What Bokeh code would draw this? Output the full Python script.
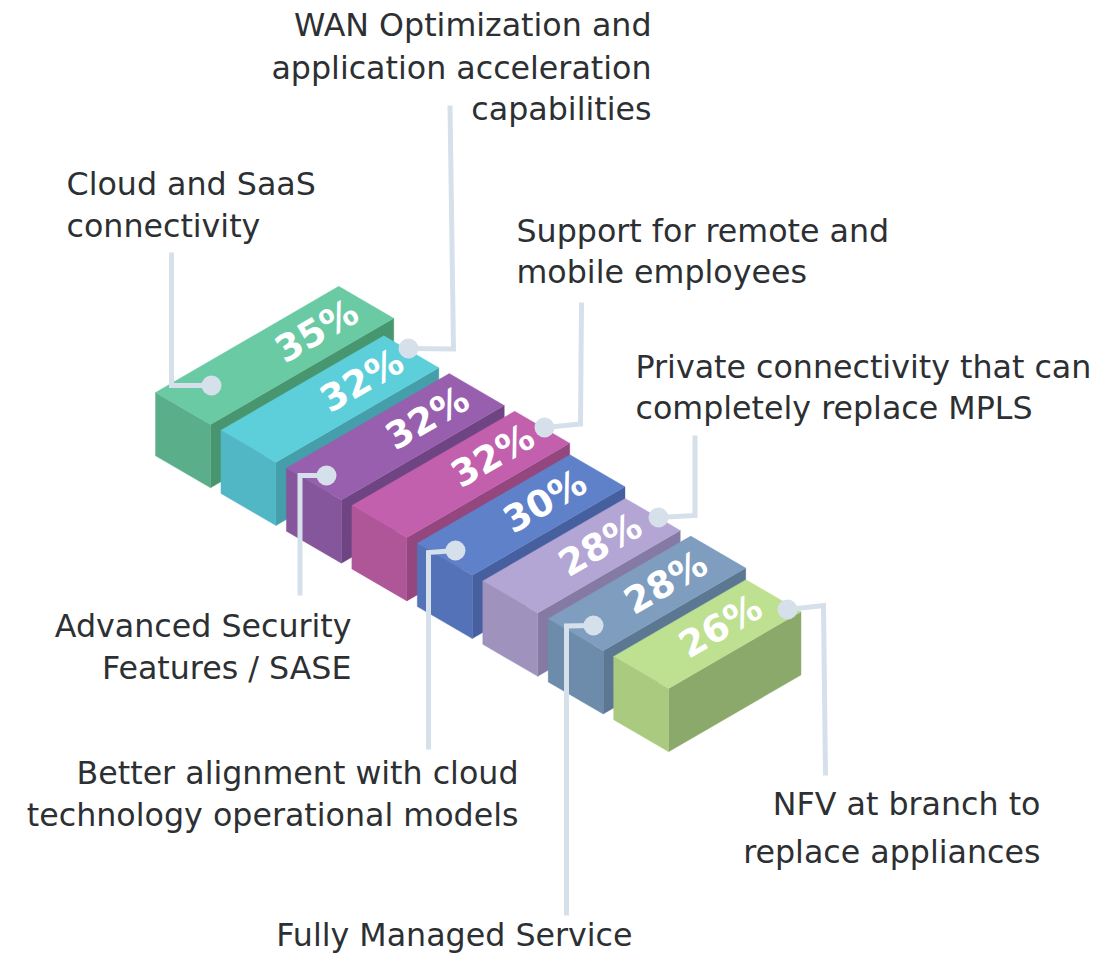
from bokeh.plotting import figure
from bokeh.models import Range1d, ColumnDataSource
from bokeh.core.properties import value
from bokeh.embed import file_html
from bokeh.resources import INLINE

# ---- data ----
categories = ["Cloud and SaaS connectivity",
              "WAN Optimization and application acceleration capabilities",
              "Advanced Security Features / SASE",
              "Support for remote and mobile employees",
              "Better alignment with cloud technology operational models",
              "Private connectivity that can completely replace MPLS",
              "Fully Managed Service",
              "NFV at branch to replace appliances"]
percent_labels = ["35%", "32%", "32%", "32%", "30%", "28%", "28%", "26%"]
drawn_values = [36, 32, 32, 32, 30, 28, 28, 26]   # length of each block as drawn
label_inset = [9.7, 9.7, 9.7, 9.7, 10.3, 10.3, 10.3, 10.4]  # label distance from the block's far end

top_colors = ["#69CAA3", "#5CCFDA", "#985FAF", "#C260AE", "#5F81CA", "#B3A5D4", "#7E9DBF", "#BEE091"]
left_colors = ["#5AAE8A", "#51B7C4", "#86569C", "#AF5698", "#5472B7", "#9F92BD", "#6D8CAC", "#A9CA7F"]
right_colors = ["#48966F", "#459FAA", "#6E4483", "#94477F", "#46609F", "#857AA3", "#5C7792", "#8CA96C"]

# ---- isometric projection (units -> page pixels) ----
ORIGIN = (210.0, 424.0)
STEP = (65.45, 37.7)
UNIT = (5.09, -2.95)
WIDTH = (55.0, 32.0)
HEIGHT = 63.3


def project(i, along, across=0.0, down=0.0):
    return (ORIGIN[0] + i * STEP[0] + along * UNIT[0] - across * WIDTH[0],
            ORIGIN[1] + i * STEP[1] + along * UNIT[1] - across * WIDTH[1] + down * HEIGHT)


W, H = 1117, 953
p = figure(width=W, height=H, x_range=Range1d(0, W), y_range=Range1d(H, 0),
           x_axis_type=None, y_axis_type=None, toolbar_location=None,
           output_backend="svg", min_border=0, outline_line_color=None,
           background_fill_color="white", border_fill_color="white")
p.grid.visible = False

xs, ys, cols = [], [], []
for i, v in enumerate(drawn_values):
    top = [(0, 1, 0), (0, 0, 0), (v, 0, 0), (v, 1, 0)]
    left = [(0, 1, 0), (0, 0, 0), (0, 0, 1), (0, 1, 1)]
    right = [(0, 0, 0), (v, 0, 0), (v, 0, 1), (0, 0, 1)]
    for face, col in ((right, right_colors[i]), (left, left_colors[i]), (top, top_colors[i])):
        pts = [project(i, *q) for q in face]
        xs.append([a for a, _ in pts])
        ys.append([b for _, b in pts])
        cols.append(col)
p.patches("xs", "ys", source=ColumnDataSource(dict(xs=xs, ys=ys, c=cols)),
          fill_color="c", line_color="c", line_width=0.4)

# percent labels on the top faces
lab = [project(i, v - d, 0.5) for i, (v, d) in enumerate(zip(drawn_values, label_inset))]
p.text([a for a, _ in lab], [b for _, b in lab], text=percent_labels, angle=30, angle_units="deg",
       text_color="white", text_font=value("DejaVu Sans"), text_font_style="bold", text_font_size="37px",
       text_align="center", text_baseline="middle")

# leaders
LEADER = "#D6E0EB"
leaders = [
    ([171, 171, 211], [252, 385, 385]),
    ([449.5, 453, 408], [105, 348.5, 348]),
    ([581, 580, 544], [302, 423.5, 427]),
    ([299.5, 299.5, 326], [595, 475, 475]),
    ([428, 428, 455], [749, 552, 550]),
    ([694.5, 694.5, 658], [435, 515, 517]),
    ([566, 566, 593], [915, 625.5, 625]),
    ([825, 823, 787], [775, 605, 609]),
]
p.multi_line([a for a, _ in leaders], [b for _, b in leaders], line_color=LEADER, line_width=5,
             line_join="miter")
p.scatter([a[-1] for a, _ in leaders], [b[-1] for _, b in leaders], size=20, marker="circle",
          fill_color=LEADER, line_color=None)

# category texts, one row per drawn line
TXT = "#2D3033"
left_texts = [("Cloud and SaaS", 66, 196), ("connectivity", 66, 238),
              ("Support for remote and", 516, 243), ("mobile employees", 516, 284),
              ("Private connectivity that can", 635, 379), ("completely replace MPLS", 635, 420)]
right_texts = [("WAN Optimization and", 651, 37), ("application acceleration", 651, 80),
               ("capabilities", 651, 121),
               ("Advanced Security", 351, 638), ("Features / SASE", 351, 680),
               ("Better alignment with cloud", 518, 785), ("technology operational models", 518, 827),
               ("NFV at branch to", 1040, 816), ("replace appliances", 1040, 864),
               ("Fully Managed Service", 632, 947)]
for rows, align in ((left_texts, "left"), (right_texts, "right")):
    p.text([r[1] for r in rows], [r[2] for r in rows], text=[r[0] for r in rows], text_color=TXT,
           text_font=value("DejaVu Sans"), text_font_size="31.7px", text_align=align,
           text_baseline="alphabetic", y_offset=-12.7)

open("out.html", "w").write(file_html(p, INLINE))
